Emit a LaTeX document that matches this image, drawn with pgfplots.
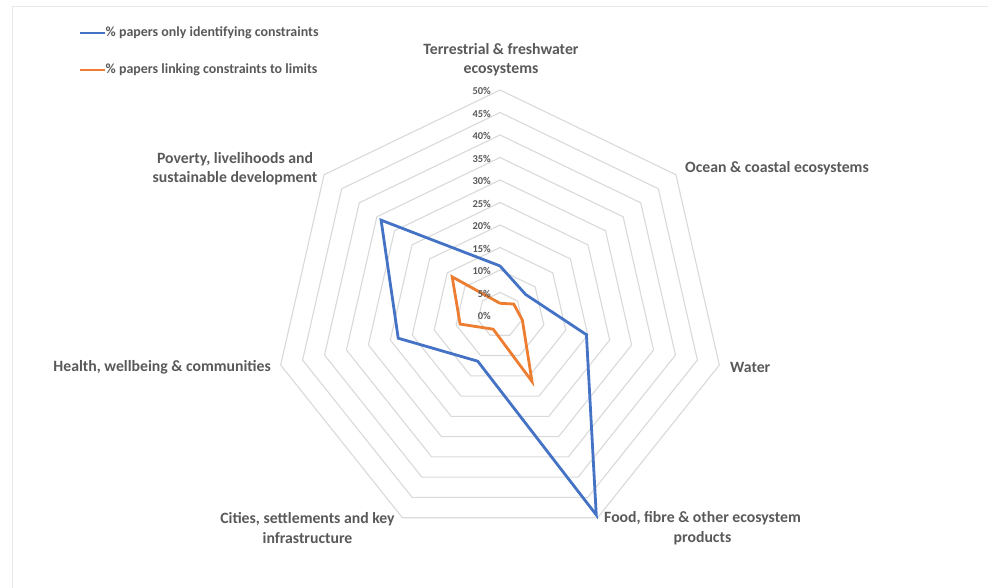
\documentclass[border=0pt]{standalone}
\usepackage{pgfplots}
\pgfplotsset{compat=1.18}
\usepackage{fontspec}
\setmainfont{Carlito}
\definecolor{sblue}{HTML}{4472C4}
\definecolor{sorange}{HTML}{ED7D31}
\definecolor{ringgray}{HTML}{D9D9D9}
\definecolor{txtgray}{HTML}{595959}
\begin{document}
\begin{tikzpicture}
\draw[gray!18, line width=1bp] (12bp,0bp) -- (12bp,581bp) -- (988bp,581bp);
\begin{axis}[
  at={(0,0)}, anchor=south west,
  x=4.5bp, y=4.5bp,
  xmin=-111.111, xmax=108.444, ymin=-60.667, ymax=70,
  scale only axis, hide axis, clip=false,
]
% rings (5% steps)
\pgfplotsinvokeforeach{5,10,...,50}{
  \addplot[ringgray, line width=1.1bp, data cs=polar, line join=miter] coordinates {
    (90,#1) (38.5714,#1) (-12.8571,#1) (-64.2857,#1) (-115.7143,#1) (-167.1429,#1) (141.4286,#1) (90,#1)};
}
% % papers only identifying constraints
\addplot[sblue, line width=2.8bp, data cs=polar, line join=miter] coordinates {
  (90,10.9) (38.5714,7.3) (-12.8571,19.7) (-64.2857,49.3) (-115.7143,11.4) (-167.1429,23.2) (141.4286,33.8) (90,10.9)};
% % papers linking constraints to limits
\addplot[sorange, line width=2.8bp, data cs=polar, line join=miter] coordinates {
  (90,2.6) (38.5714,3.9) (-12.8571,5.1) (-64.2857,16.4) (-115.7143,3.5) (-167.1429,9.1) (141.4286,13.6) (90,2.6)};
\end{axis}
% radial tick labels
\foreach \k in {0,...,10}{
  \pgfmathsetmacro\yy{272+22.5*\k}
  \pgfmathtruncatemacro\v{5*\k}
  \node[anchor=east, text=txtgray, font=\fontsize{10.5}{12}\selectfont\bfseries, inner sep=0pt] at (491bp,\yy bp) {\v\%};
}
% category labels
\begin{scope}[every node/.style={text=txtgray, font=\fontsize{15.8}{19.5}\selectfont\bfseries, inner sep=0pt}]
\node[align=center] at (501bp,528.5bp) {Terrestrial \& freshwater\\ecosystems};
\node[anchor=west] at (685bp,420bp) {Ocean \& coastal ecosystems};
\node[anchor=west] at (730bp,221bp) {Water};
\node[align=center] at (702.5bp,60bp) {Food, fibre \& other ecosystem\\products};
\node[align=center] at (307.5bp,60bp) {Cities, settlements and key\\infrastructure};
\node[anchor=east] at (271bp,221bp) {Health, wellbeing \& communities};
\node[align=center] at (235bp,419bp) {Poverty, livelihoods and\\sustainable development};
\end{scope}
% legend
\draw[sblue, line width=2.8bp] (80bp,555bp) -- (105bp,555bp);
\node[anchor=west, text=txtgray, font=\fontsize{14}{16}\selectfont\bfseries, inner sep=0pt] at (105.5bp,555bp) {\% papers only identifying constraints};
\draw[sorange, line width=2.8bp] (80bp,518bp) -- (105bp,518bp);
\node[anchor=west, text=txtgray, font=\fontsize{14}{16}\selectfont\bfseries, inner sep=0pt] at (105.5bp,518bp) {\% papers linking constraints to limits};
\pgfresetboundingbox
\useasboundingbox (0bp,0bp) rectangle (988bp,588bp);
\end{tikzpicture}
\end{document}
